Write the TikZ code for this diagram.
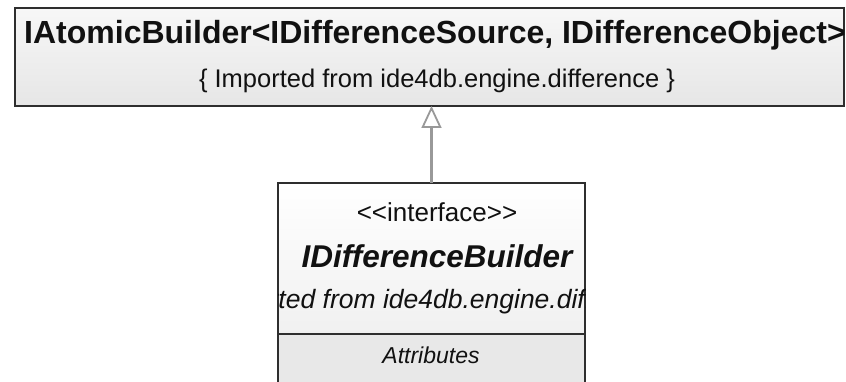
\documentclass[tikz,border=0pt]{standalone}
\usepackage{fontspec}
\setmainfont{Liberation Sans}
\usetikzlibrary{positioning,arrows.meta}
\definecolor{boxLine}{HTML}{2E2E2E}
\definecolor{boxTop}{HTML}{F7F7F7}
\definecolor{boxBottom}{HTML}{E6E6E6}
\definecolor{compFill}{HTML}{E8E8E8}
\definecolor{linkLine}{HTML}{999999}
\definecolor{textMain}{HTML}{111111}
\newcommand{\pxfont}[1]{\fontsize{#1}{#1}\selectfont}

\begin{document}
\begin{tikzpicture}[x=1pt,y=-1pt,
  every node/.style={inner sep=0pt,outer sep=0pt,text=textMain},
  umlbox/.style={draw=boxLine,line width=1.6pt,top color=boxTop,
                 bottom color=boxBottom,anchor=north west}]
  \useasboundingbox[fill=white] (0,0) rectangle (846,382);
  \clip (0,0) rectangle (846,382);
  % imported parent
  \node[umlbox,minimum width=829pt,minimum height=98pt]
        (atomic) at (15,8) {};
  \node[anchor=base,font=\pxfont{32}\bfseries]
        (atomicname) at (435,44)
        {IAtomicBuilder<IDifferenceSource, IDifferenceObject>};
  \node[anchor=base,font=\pxfont{25.5}]
        (atomicfrom) at (437,88) {\{ Imported from ide4db.engine.difference \}};
  % interface
  \node[umlbox,top color=white,bottom color=boxTop!60!boxBottom,
        minimum width=307pt,minimum height=151pt]
        (builder) at (278,183) {};
  \node[umlbox,fill=compFill,top color=compFill,bottom color=compFill,
        minimum width=307pt,minimum height=80pt,anchor=north]
        (attrs) at (builder.south) {};
  \node[anchor=base,font=\pxfont{26}]
        (stereo) at (437,222) {<{}<interface>{}>};
  \node[anchor=base,font=\pxfont{31.5}\bfseries\itshape]
        (buildername) at (437,267) {IDifferenceBuilder};
  \begin{scope}
    \clip (builder.north west) rectangle (builder.south east);
    \node[anchor=base,font=\pxfont{26.5}\itshape]
          (builderfrom) at (442,308) {\{ Imported from ide4db.engine.difference \}};
  \end{scope}
  \node[anchor=base,font=\pxfont{23}\itshape]
        (attrlabel) at (431,363) {Attributes};
  % realization
  \draw[-{Triangle[open,length=22pt,width=20pt,line width=1.8pt]},
        draw=linkLine,line width=2.2pt]
        (builder.north) -- (builder.north |- atomic.south);
\end{tikzpicture}
\end{document}
